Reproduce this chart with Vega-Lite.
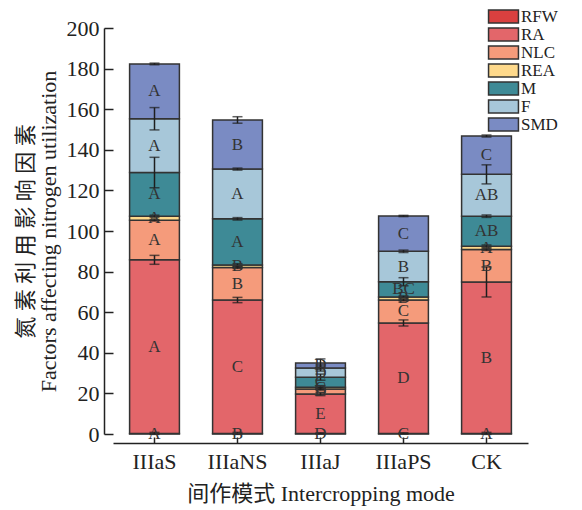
{
  "$schema": "https://vega.github.io/schema/vega-lite/v6.json",
  "width": 415,
  "height": 406,
  "autosize": "none",
  "padding": {"left": 113, "top": 28, "right": 54, "bottom": 76},
  "background": "white",
  "data": {
    "values": [
      {"mode": "IIIaS", "factor": "RFW", "ord": 1, "value": 0.3, "err": 0.5, "letter": "A"},
      {"mode": "IIIaS", "factor": "RA", "ord": 2, "value": 85.5, "err": 2.2, "letter": "A"},
      {"mode": "IIIaS", "factor": "NLC", "ord": 3, "value": 19.5, "err": 0.4, "letter": "A"},
      {"mode": "IIIaS", "factor": "REA", "ord": 4, "value": 2.0, "err": 0.5, "letter": "A"},
      {"mode": "IIIaS", "factor": "M", "ord": 5, "value": 21.5, "err": 7.5, "letter": "A"},
      {"mode": "IIIaS", "factor": "F", "ord": 6, "value": 26.5, "err": 5.5, "letter": "A"},
      {"mode": "IIIaS", "factor": "SMD", "ord": 7, "value": 27.0, "err": 0.4, "letter": "A"},
      {"mode": "IIIaNS", "factor": "RFW", "ord": 1, "value": 0.3, "err": 0.5, "letter": "B"},
      {"mode": "IIIaNS", "factor": "RA", "ord": 2, "value": 65.7, "err": 1.3, "letter": "C"},
      {"mode": "IIIaNS", "factor": "NLC", "ord": 3, "value": 16.0, "err": 0.5, "letter": "B"},
      {"mode": "IIIaNS", "factor": "REA", "ord": 4, "value": 1.2, "err": 0.7, "letter": "B"},
      {"mode": "IIIaNS", "factor": "M", "ord": 5, "value": 22.8, "err": 0.6, "letter": "A"},
      {"mode": "IIIaNS", "factor": "F", "ord": 6, "value": 24.5, "err": 0.5, "letter": "A"},
      {"mode": "IIIaNS", "factor": "SMD", "ord": 7, "value": 24.2, "err": 1.6, "letter": "B"},
      {"mode": "IIIaJ", "factor": "RFW", "ord": 1, "value": 0.3, "err": 0.3, "letter": "D"},
      {"mode": "IIIaJ", "factor": "RA", "ord": 2, "value": 19.4, "err": 0.8, "letter": "E"},
      {"mode": "IIIaJ", "factor": "NLC", "ord": 3, "value": 2.5, "err": 0.6, "letter": "D"},
      {"mode": "IIIaJ", "factor": "REA", "ord": 4, "value": 0.8, "err": 0.8, "letter": "C"},
      {"mode": "IIIaJ", "factor": "M", "ord": 5, "value": 5.0, "err": 1.5, "letter": "C"},
      {"mode": "IIIaJ", "factor": "F", "ord": 6, "value": 4.5, "err": 1.5, "letter": "D"},
      {"mode": "IIIaJ", "factor": "SMD", "ord": 7, "value": 2.5, "err": 2.0, "letter": "D"},
      {"mode": "IIIaPS", "factor": "RFW", "ord": 1, "value": 0.3, "err": 0.3, "letter": "C"},
      {"mode": "IIIaPS", "factor": "RA", "ord": 2, "value": 54.4, "err": 1.5, "letter": "D"},
      {"mode": "IIIaPS", "factor": "NLC", "ord": 3, "value": 11.3, "err": 0.5, "letter": "C"},
      {"mode": "IIIaPS", "factor": "REA", "ord": 4, "value": 1.5, "err": 0.5, "letter": "B"},
      {"mode": "IIIaPS", "factor": "M", "ord": 5, "value": 7.5, "err": 2.0, "letter": "BC"},
      {"mode": "IIIaPS", "factor": "F", "ord": 6, "value": 15.0, "err": 0.6, "letter": "B"},
      {"mode": "IIIaPS", "factor": "SMD", "ord": 7, "value": 17.4, "err": 0.3, "letter": "C"},
      {"mode": "CK", "factor": "RFW", "ord": 1, "value": 0.3, "err": 0.5, "letter": "A"},
      {"mode": "CK", "factor": "RA", "ord": 2, "value": 74.6, "err": 7.4, "letter": "B"},
      {"mode": "CK", "factor": "NLC", "ord": 3, "value": 16.0, "err": 0.5, "letter": "B"},
      {"mode": "CK", "factor": "REA", "ord": 4, "value": 1.6, "err": 0.6, "letter": "A"},
      {"mode": "CK", "factor": "M", "ord": 5, "value": 14.8, "err": 0.6, "letter": "AB"},
      {"mode": "CK", "factor": "F", "ord": 6, "value": 20.6, "err": 4.7, "letter": "AB"},
      {"mode": "CK", "factor": "SMD", "ord": 7, "value": 18.9, "err": 0.5, "letter": "C"}
    ]
  },
  "transform": [
    {"stack": "value", "groupby": ["mode"], "sort": [{"field": "ord", "order": "ascending"}], "as": ["v0", "v1"]}
  ],
  "layer": [
    {
      "mark": {"type": "bar", "stroke": "#333333", "strokeWidth": 1.5},
      "encoding": {
        "x": {"field": "mode", "type": "nominal", "sort": ["IIIaS", "IIIaNS", "IIIaJ", "IIIaPS", "CK"], "title": "间作模式 Intercropping mode", "scale": {"paddingInner": 0.4, "paddingOuter": 0.2}},
        "y": {"field": "v1", "type": "quantitative", "scale": {"domain": [0, 200], "nice": false}, "title": ["氮 素 利 用 影 响 因 素", "Factors affecting nitrogen utilization"]},
        "y2": {"field": "v0"},
        "color": {
          "field": "factor",
          "type": "nominal",
          "scale": {"domain": ["RFW", "RA", "NLC", "REA", "M", "F", "SMD"], "range": ["#d9403f", "#e3666a", "#f59b7b", "#fed98b", "#3e8a96", "#a7c7d9", "#7a8bc3"]},
          "legend": {"title": null, "rowPadding": -3, "symbolSize": 169, "symbolType": "M-2.3,-1H2.3V1H-2.3Z"}
        }
      }
    },
    {
      "mark": {"type": "errorbar", "ticks": true, "size": 10, "thickness": 1.5, "color": "#1e1e1e"},
      "encoding": {
        "x": {"field": "mode", "type": "nominal", "sort": ["IIIaS", "IIIaNS", "IIIaJ", "IIIaPS", "CK"]},
        "y": {"field": "v1", "type": "quantitative", "title": ["氮 素 利 用 影 响 因 素", "Factors affecting nitrogen utilization"]},
        "yError": {"field": "err"}
      }
    },
    {
      "transform": [
        {"fold": ["v0", "v1"], "as": ["k", "vv"]},
        {"aggregate": [{"op": "mean", "field": "vv", "as": "mid"}], "groupby": ["mode", "factor", "letter"]}
      ],
      "mark": {"type": "text", "font": "Liberation Serif", "fontSize": 17, "color": "#333333", "baseline": "middle", "align": "center"},
      "encoding": {
        "x": {"field": "mode", "type": "nominal", "sort": ["IIIaS", "IIIaNS", "IIIaJ", "IIIaPS", "CK"]},
        "y": {"field": "mid", "type": "quantitative", "title": ["氮 素 利 用 影 响 因 素", "Factors affecting nitrogen utilization"]},
        "text": {"field": "letter"}
      }
    }
  ],
  "config": {
    "view": {"stroke": null},
    "font": "Liberation Serif",
    "axis": {
      "grid": false,
      "domainColor": "#222222",
      "domainWidth": 1.5,
      "tickColor": "#222222",
      "tickWidth": 1.5,
      "labelFont": "Liberation Serif",
      "labelFontSize": 22,
      "labelColor": "#222222",
      "titleFont": "Liberation Serif, Noto Sans CJK SC",
      "titleFontSize": 22,
      "titleFontWeight": "normal",
      "titleColor": "#222222"
    },
    "axisX": {"offset": 9, "tickSize": -6, "labelAngle": 0, "labelPadding": 14, "titlePadding": 11},
    "axisY": {"offset": 9, "tickSize": -9, "labelPadding": 14, "values": [0, 20, 40, 60, 80, 100, 120, 140, 160, 180, 200], "titlePadding": 6, "titleLineHeight": 23},
    "legend": {
      "orient": "none",
      "legendX": 382,
      "legendY": -20,
      "padding": 0,
      "symbolStrokeColor": "#333333",
      "symbolStrokeWidth": 1.5,
      "symbolOpacity": 1,
      "labelFont": "Liberation Serif",
      "labelFontSize": 17,
      "labelColor": "#222222",
      "labelOffset": 9
    }
  }
}
